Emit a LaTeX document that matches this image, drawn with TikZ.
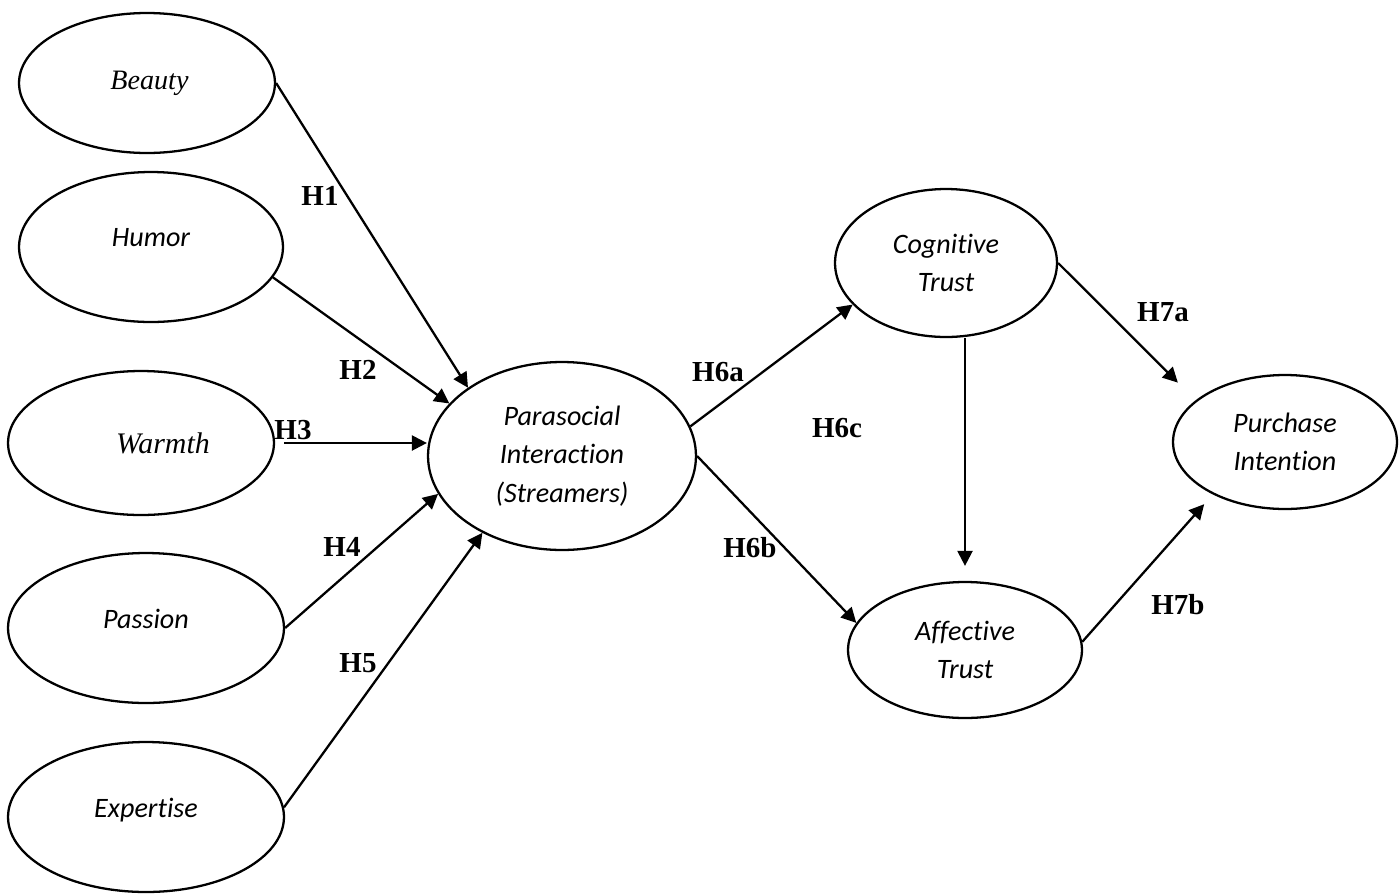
\documentclass[tikz,border=0pt]{standalone}
\usepackage{fontspec}
\setmainfont{Liberation Serif}
\newfontfamily\calibri[Ligatures=NoCommon]{Carlito}
\usetikzlibrary{arrows.meta,shapes.geometric}

\begin{document}
\begin{tikzpicture}[
  x=0.02cm, y=-0.02cm,
  >={Triangle[length=0.3cm, width=0.3cm]},
  construct/.style={draw=black, ellipse, line width=1.3pt, inner sep=0pt, align=center, font=\calibri\itshape\fontsize{16}{22}\selectfont},
  serifcon/.style={construct, font=\itshape\fontsize{16}{22}\selectfont},
  raised/.style={text depth=0.38cm},
  hyp/.style={font=\bfseries\fontsize{16.5}{19}\selectfont, inner sep=0pt},
  arrow/.style={->, line width=1.3pt, draw=black}
]
  \useasboundingbox (0,0) rectangle (1400,893);

  % Antecedents
  \node[serifcon, minimum width=5.12cm, minimum height=2.8cm] (beauty) at (147,83) {\hspace*{0.1cm}Beauty};
  \node[construct, raised, minimum width=5.28cm, minimum height=3.0cm] (humor) at (151,247) {Humor};
  \node[serifcon, font=\itshape\fontsize{17}{22}\selectfont, minimum width=5.32cm, minimum height=2.88cm] (warmth) at (141,443) {\hspace*{0.88cm}Warmth};
  \node[construct, raised, minimum width=5.52cm, minimum height=3.0cm] (passion) at (146,628) {Passion};
  \node[construct, raised, minimum width=5.52cm, minimum height=3.0cm] (expertise) at (146,817) {Expertise};

  % Mediators and outcome
  \node[construct, minimum width=5.36cm, minimum height=3.76cm] (para) at (562,456) {Parasocial\\Interaction\\(Streamers)};
  \node[construct, minimum width=4.44cm, minimum height=2.96cm] (cog) at (946,263) {Cognitive\\Trust};
  \node[construct, minimum width=4.68cm, minimum height=2.72cm] (aff) at (965,650) {Affective\\Trust};
  \node[construct, minimum width=4.48cm, minimum height=2.68cm] (pur) at (1285,442) {Purchase\\Intention};

  % Connectors
  \draw[arrow] (beauty.east) -- (para.144);
  \draw[arrow] (humor.-14) -- (para.155);
  \draw[arrow] ([xshift=0.18cm]warmth.east) -- (warmth.east -| para.west);
  \draw[arrow] (passion.east) -- (para.197);
  \draw[arrow] (expertise.4) -- (para.224);

  \draw[arrow] (para.13) -- (cog.204);
  \draw[arrow] (para.east) -- (aff.166);
  \draw[arrow, shorten >=0.3cm] (cog.south -| aff.north) -- (aff.north);
  \draw[arrow, shorten >=0.5cm] (cog.east) -- (pur.155);
  \draw[arrow, shorten >=0.26cm] (aff.4) -- (pur.216);

  % Hypothesis labels
  \node[hyp] (lh1) at (320,196) {H1};
  \node[hyp] (lh2) at (358,370) {H2};
  \node[hyp] (lh3) at (293,430) {H3};
  \node[hyp] (lh4) at (342,547) {H4};
  \node[hyp] (lh5) at (358,663) {H5};
  \node[hyp] (lh6a) at (718,372) {H6a};
  \node[hyp] (lh6b) at (750,548) {H6b};
  \node[hyp] (lh6c) at (837,428) {H6c};
  \node[hyp] (lh7a) at (1163,312) {H7a};
  \node[hyp] (lh7b) at (1178,605) {H7b};

\end{tikzpicture}
\end{document}
